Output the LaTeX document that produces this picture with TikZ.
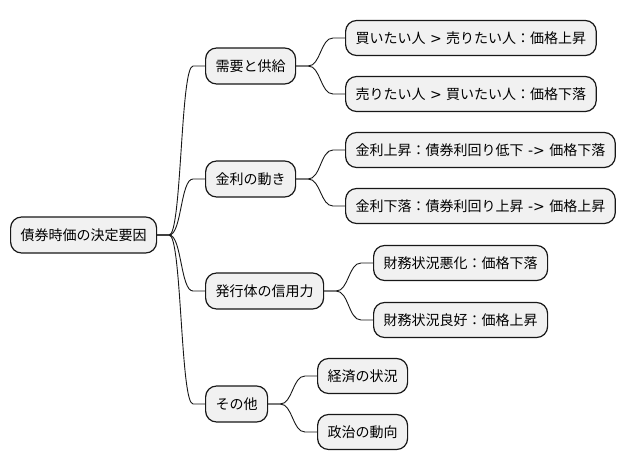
\documentclass[tikz,border=0pt]{standalone}
\usepackage{fontspec}
\setmainfont{Noto Sans CJK JP}
\newfontfamily\latfont{DejaVu Sans}
\newcommand\lt[1]{{\latfont#1}}
\definecolor{boxfill}{HTML}{F1F1F1}
\definecolor{boxline}{HTML}{181818}
\tikzset{
  mmbox/.style={draw=boxline, fill=boxfill, line width=1.2pt, rounded corners=11pt,
    anchor=west, inner xsep=10pt, inner ysep=0pt, minimum height=36pt,
    text height=11.5pt, text depth=1pt, font=\fontsize{14pt}{16pt}\selectfont, text=black},
  mmleaf/.style={mmbox, minimum height=35pt},
  mmline/.style={draw=boxline, line width=0.9pt}
}
\newcommand\mmlink[2]{\draw[mmline] (#1.east) -- ([xshift=12pt]#1.east) .. controls ([xshift=24.5pt]#1.east) and ([xshift=-24.5pt]#2.west) .. ([xshift=-12pt]#2.west) -- (#2.west);}
\begin{document}
\begin{tikzpicture}[x=1pt,y=-1pt]
\useasboundingbox[fill=white] (0,0) rectangle (626,471);
\node[mmbox] (root) at (10,235) {債券時価の決定要因};
\node[mmbox] (c1) at (205,66) {需要と供給};
\node[mmbox] (c2) at (205,179) {金利の動き};
\node[mmbox] (c3) at (205,291) {発行体の信用力};
\node[mmbox] (c4) at (205,404) {その他};
\node[mmleaf] (g11) at (345,38) {買いたい人\lt{ > }売りたい人：価格上昇};
\node[mmleaf] (g12) at (345,94) {売りたい人\lt{ > }買いたい人：価格下落};
\node[mmleaf] (g21) at (345,150) {金利上昇：債券利回り低下\lt{ -> }価格下落};
\node[mmleaf] (g22) at (345,206) {金利下落：債券利回り上昇\lt{ -> }価格上昇};
\node[mmleaf] (g31) at (373,263) {財務状況悪化：価格下落};
\node[mmleaf] (g32) at (373,320) {財務状況良好：価格上昇};
\node[mmleaf] (g41) at (317,376) {経済の状況};
\node[mmleaf] (g42) at (317,432) {政治の動向};
\mmlink{root}{c1}
\mmlink{root}{c2}
\mmlink{root}{c3}
\mmlink{root}{c4}
\mmlink{c1}{g11}
\mmlink{c1}{g12}
\mmlink{c2}{g21}
\mmlink{c2}{g22}
\mmlink{c3}{g31}
\mmlink{c3}{g32}
\mmlink{c4}{g41}
\mmlink{c4}{g42}
\end{tikzpicture}
\end{document}
